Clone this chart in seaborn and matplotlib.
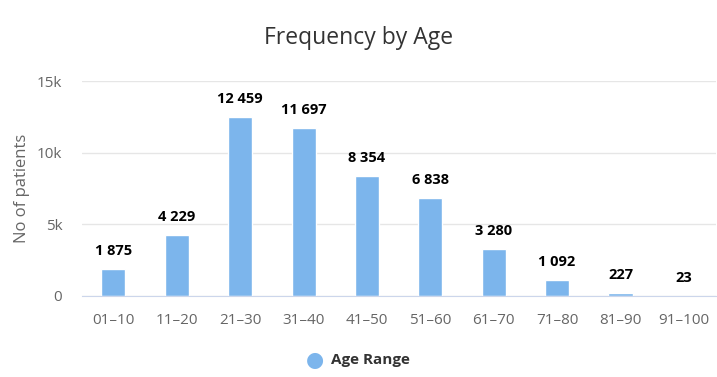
import matplotlib
matplotlib.use('Agg')
import matplotlib.pyplot as plt
import seaborn as sns
import pandas as pd

age_ranges = ['01-10', '11-20', '21-30', '31-40', '41-50',
              '51-60', '61-70', '71-80', '81-90', '91-100']
patients = [1875, 4229, 12459, 11697, 8354, 6838, 3280, 1092, 227, 23]
y_ticks = [0, 5000, 10000, 15000]
y_tick_labels = ['0', '5k', '10k', '15k']

df = pd.DataFrame({'age': age_ranges, 'count': patients})

sns.set_style('white')
plt.rcParams['font.family'] = ['Open Sans', 'DejaVu Sans']

fig = plt.figure(figsize=(7.17, 3.77), dpi=100)
ax = fig.add_axes([0.114, 0.215, 0.884, 0.57])

sns.barplot(data=df, x='age', y='count', color='#7cb5ec', width=0.38,
            saturation=1, ax=ax, zorder=3)

ax.set_ylim(0, 15000)
ax.set_xlim(-0.5, len(age_ranges) - 0.5)
ax.set_yticks(y_ticks)
ax.set_yticklabels(y_tick_labels)
ax.yaxis.grid(True, color='#e6e6e6', linewidth=1, zorder=0)
ax.xaxis.grid(False)
for s in ['top', 'right', 'left']:
    ax.spines[s].set_visible(False)
ax.spines['bottom'].set_color('#ccd6eb')
ax.spines['bottom'].set_zorder(4)
ax.tick_params(axis='both', length=0, labelsize=11, colors='#666666')
ax.tick_params(axis='x', pad=12)
ax.tick_params(axis='y', pad=14)
ax.set_xticklabels([a.replace('-', '\u2013') for a in age_ranges])
ax.set_xlabel('')
ax.set_ylabel('No of patients', fontsize=12, color='#666666', labelpad=5)

for i, v in enumerate(patients):
    ax.annotate(f'{v:,}'.replace(',', ' '), (i, v), xytext=(0, 8),
                textcoords='offset points', ha='center', va='bottom',
                fontsize=10.5, fontweight='bold', color='#000000')

fig.text(0.5, 0.9, 'Frequency by Age', ha='center', va='center',
         fontsize=16.5, color='#333333')

# legend
fig.text(0.440, 0.045, '\u25CF', ha='center', va='center', fontsize=15,
         color='#7cb5ec')
fig.text(0.462, 0.045, 'Age Range', ha='left', va='center', fontsize=11,
         fontweight='bold', color='#333333')

fig.savefig('out.png', dpi=100)
